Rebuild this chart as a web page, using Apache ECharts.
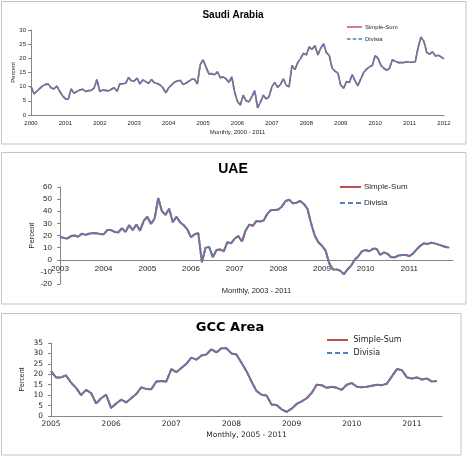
<!DOCTYPE html>
<html><head><meta charset="utf-8">
<script src="https://cdn.jsdelivr.net/npm/echarts/dist/echarts.min.js"></script>
<style>html,body{margin:0;padding:0;background:#fff}#c{width:468px;height:464px}</style>
</head><body><div id="c"></div>
<script>
// ---------- DATA ----------
const seriesNames = ['Simple-Sum', 'Divisia'];

// Saudi Arabia, monthly from Jan 2000
const saudiStartYear = 2000;
const saudiSimpleSum = [
  10, 7.5, 8.3, 9.3, 10.2, 10.8, 10.9, 9.6, 9.2, 10.2, 8.4, 6.8,
  5.7, 5.6, 9.2, 7.7, 8.3, 8.8, 9.1, 8.3, 8.6, 8.7, 9.5, 12.5,
  8.3, 8.8, 8.7, 8.5, 9.1, 9.6, 8.4, 11, 11, 11.2, 13.2, 12,
  12, 13, 10.9, 12.4, 11.8, 11.2, 12.5, 11.4, 11.1, 10.6, 9.6, 7.8,
  9.6, 10.6, 11.6, 12, 12.3, 10.8, 11.2, 11.9, 12.6, 12.6, 11, 17.8,
  19.5, 17, 14.5, 14.6, 14.2, 15.2, 13.2, 13.4, 12.8, 11.5, 13.5, 8,
  4.8, 3.5, 7, 5, 4.6, 6.5, 8.6, 2.5, 4.5, 7, 5.6, 6.5,
  10, 11.5, 9.8, 10.8, 12.8, 10.5, 10, 17.5, 16, 18.5, 20, 21.8,
  21.2, 24, 23.2, 24.5, 21.2, 23.5, 25.2, 22, 21, 16.5, 15.5, 14.8,
  10.5, 9.5, 11.8, 11.5, 14.3, 12, 10.3, 12.8, 15, 16.2, 17, 17.5,
  21, 20, 17.5, 16.5, 15.8, 16.5, 19.5, 19, 18.5, 18.5, 18.5, 18.8,
  18.6, 18.6, 18.8, 24, 27.5, 26, 22, 21.5, 22.3, 20.8, 21.1, 20.5,
  19.8
];
const saudiDivisia = [
  10, 7.5, 8.3, 9.3, 10.2, 10.8, 10.9, 9.6, 9.2, 10.2, 8.4, 6.8,
  5.7, 5.6, 9.2, 7.7, 8.3, 8.8, 9.1, 8.3, 8.6, 8.7, 9.5, 12.5,
  8.3, 8.8, 8.7, 8.5, 9.1, 9.6, 8.4, 11, 11, 11.2, 13.2, 12,
  12, 13, 10.9, 12.4, 11.8, 11.2, 12.5, 11.4, 11.1, 10.6, 9.6, 7.8,
  9.6, 10.6, 11.6, 12, 12.3, 10.8, 11.2, 11.9, 12.6, 12.6, 11, 17.8,
  19.5, 17, 14.5, 14.6, 14.2, 15.2, 13.2, 13.4, 12.8, 11.5, 13.5, 8,
  4.8, 3.5, 7, 5, 4.6, 6.5, 8.6, 2.5, 4.5, 7, 5.6, 6.5,
  10, 11.5, 9.8, 10.8, 12.8, 10.5, 10, 17.5, 16, 18.5, 20, 21.8,
  21.2, 24, 23.2, 24.5, 21.2, 23.5, 25.2, 22, 21, 16.5, 15.5, 14.8,
  10.5, 9.5, 11.8, 11.5, 14.3, 12, 10.3, 12.8, 15, 16.2, 17, 17.5,
  21, 20, 17.5, 16.5, 15.8, 16.5, 19.5, 19, 18.5, 18.5, 18.5, 18.8,
  18.6, 18.6, 18.8, 24, 27.5, 26, 22, 21.5, 22.3, 20.8, 21.1, 20.5,
  19.8
];
const saudiXTicks = [2000,2001,2002,2003,2004,2005,2006,2007,2008,2009,2010,2011,2012];
const saudiYTicks = [0,5,10,15,20,25,30];

// UAE, monthly from Jan 2003
const uaeStartYear = 2003;
const uaeSimpleSum = [
  19, 18, 17.5, 19.5, 20, 19, 21.5, 20.5, 21.5, 22, 21.8, 21.2,
  21, 24.5, 24.5, 23, 22.5, 26, 23, 28.5, 24.5, 29, 24, 32,
  35.5, 29.5, 34, 51, 40, 37, 42, 31, 35.5, 31, 28.5, 25,
  18.5, 21, 22, -2, 10, 10.5, 2, 8, 8.5, 7, 14.5, 13.5,
  17.5, 19.5, 15, 24, 29, 28, 32, 31.5, 32.5, 38, 41, 41,
  41.5, 44, 48.5, 49.5, 46.5, 47, 48.5, 46, 42, 30, 20, 14.5,
  11.5, 7.5, -3, -8, -8, -9, -12, -8, -5, 0, 3, 7,
  8, 7, 9, 9, 4, 6, 5, 2, 2, 3.5, 4, 4,
  3, 5, 8.5, 11.5, 13.5, 13, 14, 13.5, 12.5, 11.5, 10.5, 10
];
const uaeDivisia = [
  19, 18, 17.5, 19.5, 20, 19, 21.5, 20.5, 21.5, 22, 21.8, 21.2,
  21, 24.5, 24.5, 23, 22.5, 26, 23, 28.5, 24.5, 29, 24, 32,
  35.5, 29.5, 34, 51, 40, 37, 42, 31, 35.5, 31, 28.5, 25,
  18.5, 21, 22, -2, 10, 10.5, 2, 8, 8.5, 7, 14.5, 13.5,
  17.5, 19.5, 15, 24, 29, 28, 32, 31.5, 32.5, 38, 41, 41,
  41.5, 44, 48.5, 49.5, 46.5, 47, 48.5, 46, 42, 30, 20, 14.5,
  11.5, 7.5, -3, -8, -8, -9, -12, -8, -5, 0, 3, 7,
  8, 7, 9, 9, 4, 6, 5, 2, 2, 3.5, 4, 4,
  3, 5, 8.5, 11.5, 13.5, 13, 14, 13.5, 12.5, 11.5, 10.5, 10
];
const uaeXTicks = [2003,2004,2005,2006,2007,2008,2009,2010,2011];
const uaeYTicks = [-20,-10,0,10,20,30,40,50,60];

// GCC Area, monthly from Jan 2005
const gccStartYear = 2005;
const gccSimpleSum = [
  21.5, 18.5, 18.5, 19.5, 16, 13.5, 10, 12.5, 11, 6, 8.5, 10.2,
  3.8, 6, 7.8, 6.5, 8.5, 10.5, 13.7, 13, 12.8, 16.5, 16.8, 16.5,
  22.5, 21, 23, 25, 28, 27, 29, 29.5, 32, 30.5, 32.5, 32.5,
  30, 29.5, 25.5, 21.5, 16.5, 12, 10.2, 9.8, 5.5, 5.3, 3.2, 2,
  3.5, 5.8, 7, 8.5, 11, 15, 14.8, 13.5, 14, 13.5, 12.5, 15,
  15.8, 14, 13.8, 14, 14.5, 15, 14.8, 15.5, 19, 22.5, 22, 18.5,
  18, 18.5, 17.5, 18, 16.5, 16.8
];
const gccDivisia = [
  21.5, 18.5, 18.5, 19.5, 16, 13.5, 10, 12.5, 11, 6, 8.5, 10.2,
  3.8, 6, 7.8, 6.5, 8.5, 10.5, 13.7, 13, 12.8, 16.5, 16.8, 16.5,
  22.5, 21, 23, 25, 28, 27, 29, 29.5, 32, 30.5, 32.5, 32.5,
  30, 29.5, 25.5, 21.5, 16.5, 12, 10.2, 9.8, 5.5, 5.3, 3.2, 2,
  3.5, 5.8, 7, 8.5, 11, 15, 14.8, 13.5, 14, 13.5, 12.5, 15,
  15.8, 14, 13.8, 14, 14.5, 15, 14.8, 15.5, 19, 22.5, 22, 18.5,
  18, 18.5, 17.5, 18, 16.5, 16.8
];
const gccXTicks = [2005,2006,2007,2008,2009,2010,2011];
const gccYTicks = [0,5,10,15,20,25,30,35];

// ---------- CHART ----------
const RED = '#C0504D', BLUE = '#4F81BD', AXIS = '#868686', TXT = '#262626', BOX = '#c4c4c4';
function pairs(start, arr) { return arr.map((v, i) => [start + i / 12, v]); }
const SOLID_ICON = 'path://M0,0H21V2H0Z';
const DASH_ICON = 'path://M0,0H5V2H0Z M8,0H13V2H8Z M16,0H21V2H16Z';

const panels = [
  { title: 'Saudi Arabia', titleX: 233, titleY: 15, titleFont: 10, family: 'Liberation Sans',
    box: [1.5, 1.5, 464.5, 142.5],
    grid: { left: 31, top: 30, width: 413, height: 85 },
    xMin: 2000, xMax: 2012, xTicks: saudiXTicks, yTicks: saudiYTicks, xOffset: 0,
    xName: 'Monthly, 2000 - 2011', yName: 'Percent', font: 6, nameFont: 6,
    xNameGap: 14, yNameGap: 15, yLabelMargin: 5, xLabelMargin: 5,
    legend: { left: 347, top: 22, itemWidth: 15, font: 6, lh: 10, gap: 2 },
    start: saudiStartYear, ss: saudiSimpleSum, dv: saudiDivisia, lw: 1.6 },
  { title: 'UAE', titleX: 233, titleY: 169, titleFont: 14, family: 'Liberation Sans',
    box: [1.5, 152.5, 464.5, 151.5],
    grid: { left: 60, top: 187, width: 393, height: 97 },
    xMin: 2003, xMax: 2012, xTicks: uaeXTicks, yTicks: uaeYTicks, xOffset: -24.25,
    xName: 'Monthly, 2003 - 2011', yName: 'Percent', font: 8, nameFont: 7.5,
    xNameGap: 27, yNameGap: 24, yLabelMargin: 8, xLabelMargin: 5,
    legend: { left: 340, top: 181, itemWidth: 21, font: 8, lh: 12, gap: 4 },
    start: uaeStartYear, ss: uaeSimpleSum, dv: uaeDivisia, lw: 2 },
  { title: 'GCC Area', titleX: 230, titleY: 328, titleFont: 13, family: 'DejaVu Sans',
    box: [1.5, 313.5, 459.5, 141.5],
    grid: { left: 51, top: 343, width: 391, height: 73 },
    xMin: 2005, xMax: 2011.5, xTicks: gccXTicks, yTicks: gccYTicks, xOffset: 0,
    xName: 'Monthly, 2005 - 2011', yName: 'Percent', font: 7.5, nameFont: 7.5,
    xNameGap: 15, yNameGap: 25, yLabelMargin: 8, xLabelMargin: 4, yNameFamily: 'Liberation Sans', yNameFont: 7,
    legend: { left: 327, top: 334.5, itemWidth: 26, font: 8, lh: 11, gap: 2 },
    start: gccStartYear, ss: gccSimpleSum, dv: gccDivisia, lw: 2 }
];

const option = {
  animation: false,
  backgroundColor: '#fff',
  grid: [], xAxis: [], yAxis: [], series: [], legend: [], graphic: []
};

panels.forEach((p, k) => {
  option.grid.push(Object.assign({ outerBoundsMode: 'none', containLabel: false }, p.grid));
  option.graphic.push({ type: 'rect', shape: { x: p.box[0], y: p.box[1], width: p.box[2], height: p.box[3] },
    style: { fill: 'none', stroke: BOX, lineWidth: 1 }, silent: true, z: -10 });
  option.graphic.push({ type: 'text', x: p.titleX, y: p.titleY, silent: true,
    style: { text: p.title, fill: '#000', font: 'bold ' + p.titleFont + 'px "' + p.family + '"',
      textAlign: 'center', textVerticalAlign: 'middle' } });
  const yStep = p.yTicks[1] - p.yTicks[0];
  option.xAxis.push({
    type: 'value', gridIndex: k, min: p.xMin, max: p.xMax, interval: 1,
    offset: p.xOffset,
    name: p.xName, nameLocation: 'middle', nameGap: p.xNameGap, nameMoveOverlap: false,
    nameTextStyle: { fontSize: p.nameFont, color: TXT, fontFamily: p.family },
    splitLine: { show: false },
    axisLine: { show: true, onZero: false, lineStyle: { color: AXIS, width: 1 } },
    axisTick: { show: false },
    axisLabel: { show: true, margin: p.xLabelMargin, fontSize: p.font, color: TXT, fontFamily: p.family,
      showMinLabel: true, showMaxLabel: true, hideOverlap: false,
      formatter: v => (p.xTicks.indexOf(v) >= 0 ? String(v) : '') }
  });
  option.yAxis.push({
    type: 'value', gridIndex: k, min: p.yTicks[0], max: p.yTicks[p.yTicks.length - 1], interval: yStep,
    name: p.yName, nameLocation: 'middle', nameGap: p.yNameGap, nameMoveOverlap: false,
    nameTextStyle: { fontSize: p.yNameFont || p.nameFont, color: TXT, fontFamily: p.yNameFamily || p.family },
    splitLine: { show: false },
    axisLine: { show: true, onZero: false, lineStyle: { color: AXIS, width: 1 } },
    axisTick: { show: true, length: 3, lineStyle: { color: AXIS } },
    axisLabel: { margin: p.yLabelMargin, fontSize: p.font, color: TXT, fontFamily: p.family,
      formatter: v => (p.yTicks.indexOf(v) >= 0 ? String(v) : '') }
  });
  option.series.push({
    name: seriesNames[0], type: 'line', xAxisIndex: k, yAxisIndex: k, data: pairs(p.start, p.ss),
    symbol: 'none', smooth: false, z: 2,
    lineStyle: { color: RED, width: p.lw, type: 'solid' }, itemStyle: { color: RED }
  });
  option.series.push({
    name: seriesNames[1], type: 'line', xAxisIndex: k, yAxisIndex: k, data: pairs(p.start, p.dv),
    symbol: 'none', smooth: false, z: 3,
    lineStyle: { color: BLUE, width: p.lw, type: [5, 2] }, itemStyle: { color: BLUE }
  });
  option.legend.push({
    orient: 'vertical', left: p.legend.left, top: p.legend.top, padding: 0,
    itemWidth: p.legend.itemWidth, itemHeight: p.lw, itemGap: p.legend.gap,
    data: [{ name: seriesNames[0], icon: SOLID_ICON }, { name: seriesNames[1], icon: DASH_ICON }],
    selectedMode: false,
    textStyle: { fontSize: p.legend.font, color: TXT, fontFamily: p.family, lineHeight: p.legend.lh, padding: [0, 0, 0, -2] }
  });
});

const chart = echarts.init(document.getElementById('c'), null, { renderer: 'canvas' });
chart.setOption(option);
</script>
</body></html>
